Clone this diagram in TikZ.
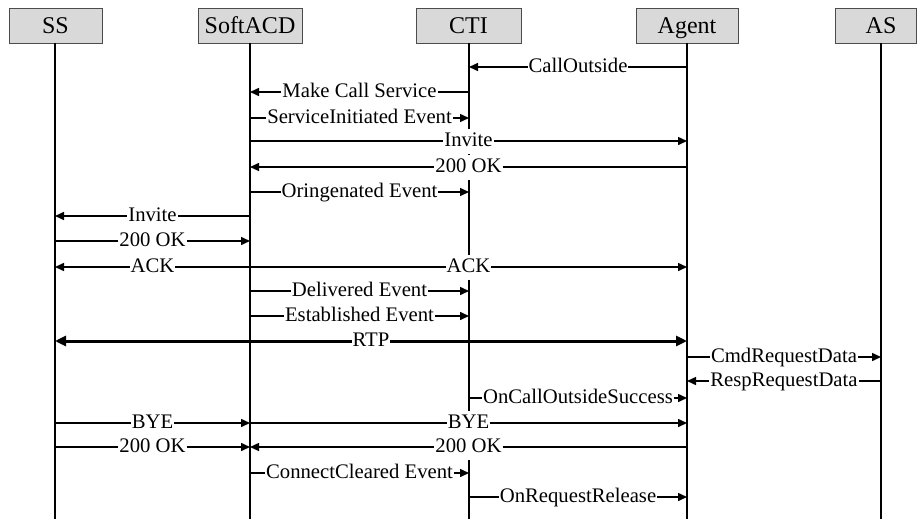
\documentclass[tikz,border=0pt]{standalone}
\usepackage{fontspec}
\setmainfont{Liberation Serif}
\usetikzlibrary{arrows.meta}
\begin{document}
\begin{tikzpicture}[x=1pt,y=-1pt,
  actor/.style={draw=black!70, fill=black!15, line width=0.8pt, minimum height=35pt, inner sep=0pt, text height=16pt, text depth=0pt, anchor=north, font=\fontsize{24}{28}\selectfont},
  life/.style={line width=1.8pt},
  msg/.style={line width=1.5pt, -{Triangle[length=9pt,width=8pt]}},
  rtp/.style={line width=3pt, {Triangle[length=11pt,width=10pt]}-{Triangle[length=11pt,width=10pt]}},
  lbl/.style={fill=white, font=\fontsize{20.7}{24}\selectfont, inner xsep=1pt, inner ysep=3.25pt, text height=14.5pt, text depth=4pt}]
\useasboundingbox (0,0) rectangle (917,519);
% participants
\node[actor, minimum width=93pt]  (SS)    at (55.5,8)  {SS};
\node[actor, minimum width=104pt] (SA)    at (250,8)   {SoftACD};
\node[actor, minimum width=105pt] (CTIb)  at (468.5,8) {CTI};
\node[actor, minimum width=102pt] (AG)    at (687,8)   {Agent};
\node[actor, minimum width=81pt]  (ASb)   at (875.5,8) {\hspace{11pt}AS};
% lifeline coordinates
\coordinate (ss)  at (55,43);
\coordinate (sa)  at (250,43);
\coordinate (cti) at (469,43);
\coordinate (ag)  at (687,43);
\coordinate (as)  at (881,43);
\foreach \c in {ss,sa,cti,ag,as}{
  \coordinate (\c-end) at (\c |- 0,519);
  \draw[life] (\c) -- (\c-end);
}
\newcommand{\msgline}[4]{\draw[msg] (#1 |- 0,#3) -- node[lbl]{#4} (#2 |- 0,#3);}
\msgline{ag}{cti}{67}{CallOutside}
\msgline{cti}{sa}{92}{Make Call Service}
\msgline{sa}{cti}{118}{ServiceInitiated Event}
\msgline{sa}{ag}{141}{Invite}
\msgline{ag}{sa}{167}{200 OK}
\msgline{sa}{cti}{192}{Oringenated Event}
\msgline{sa}{ss}{216}{Invite}
\msgline{ss}{sa}{241}{200 OK}
\msgline{sa}{ss}{267}{ACK}
\msgline{sa}{ag}{267}{ACK}
\msgline{sa}{cti}{291}{Delivered Event}
\msgline{sa}{cti}{316}{Established Event}
\draw[rtp] (ss |- 0,341) -- node[lbl]{RTP} (ag |- 0,341);
\msgline{ag}{as}{357}{CmdRequestData}
\msgline{as}{ag}{381}{RespRequestData}
\msgline{cti}{ag}{398}{OnCallOutsideSuccess}
\msgline{ss}{sa}{423}{BYE}
\msgline{sa}{ag}{423}{BYE}
\msgline{ss}{sa}{447}{200 OK}
\msgline{ag}{sa}{447}{200 OK}
\msgline{sa}{cti}{473}{ConnectCleared Event}
\msgline{cti}{ag}{497}{OnRequestRelease}
\end{tikzpicture}
\end{document}
